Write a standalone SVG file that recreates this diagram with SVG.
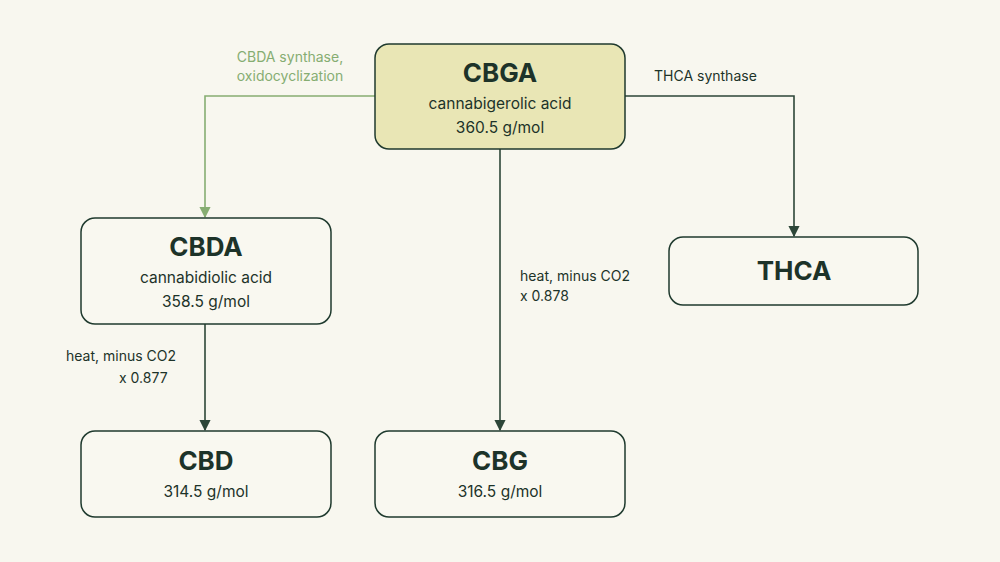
<svg xmlns="http://www.w3.org/2000/svg" width="1000" height="562" viewBox="0 0 1000 562">
<style>
text{font-family:Inter,"DejaVu Sans",sans-serif;text-anchor:middle;fill:#1d3329}
.box{fill:#f9f8f0;stroke:#1f3a2e;stroke-width:1.5}
.t{font-size:26px;font-weight:700}
.s{font-size:15.5px}
.l{font-size:14px;text-anchor:start}
.g{fill:#86ad72}
.c{fill:none;stroke:#2d4638;stroke-width:1.6}
</style>
<defs>
<marker id="a" viewBox="0 0 10 10" refX="9" refY="5" markerWidth="7" markerHeight="7" orient="auto"><path d="M0,0L10,5L0,10z" fill="#2d4638"/></marker>
<marker id="ag" viewBox="0 0 10 10" refX="9" refY="5" markerWidth="7" markerHeight="7" orient="auto"><path d="M0,0L10,5L0,10z" fill="#86ad72"/></marker>
</defs>
<rect width="1000" height="562" fill="#f8f7ef"/>
<g id="connectors">
<path class="c" d="M375,96H205V217" style="stroke:#86ad72" marker-end="url(#ag)"/>
<path class="c" d="M500,149V430" marker-end="url(#a)"/>
<path class="c" d="M625,96H794V236" marker-end="url(#a)"/>
<path class="c" d="M205,324V430" marker-end="url(#a)"/>
<text class="s g" x="290" y="62" style="font-size:14px">CBDA synthase,</text>
<text class="s g" x="290" y="81" style="font-size:14px">oxidocyclization</text>
<text class="l" x="654" y="81">THCA synthase</text>
<text class="l" x="520" y="281">heat, minus CO2</text>
<text class="l" x="520" y="301">x 0.878</text>
<text class="l" x="66" y="361">heat, minus CO2</text>
<text class="l" x="119" y="383">x 0.877</text>
</g>
<g id="cbga"><rect class="box" x="375" y="44" width="250" height="105" rx="14" style="fill:#e9e6b5"/>
<text class="t" x="500" y="82">CBGA</text><text class="s" x="500" y="109">cannabigerolic acid</text><text class="s" x="500" y="133">360.5 g/mol</text></g>
<g id="cbda"><rect class="box" x="81" y="218" width="250" height="106" rx="14"/>
<text class="t" x="206" y="256">CBDA</text><text class="s" x="206" y="283">cannabidiolic acid</text><text class="s" x="206" y="307">358.5 g/mol</text></g>
<g id="thca"><rect class="box" x="669" y="237" width="249" height="68" rx="14"/>
<text class="t" x="794" y="280">THCA</text></g>
<g id="cbd"><rect class="box" x="81" y="431" width="250" height="86" rx="14"/>
<text class="t" x="206" y="470">CBD</text><text class="s" x="206" y="497">314.5 g/mol</text></g>
<g id="cbg"><rect class="box" x="375" y="431" width="250" height="86" rx="14"/>
<text class="t" x="500" y="470">CBG</text><text class="s" x="500" y="497">316.5 g/mol</text></g>
</svg>
